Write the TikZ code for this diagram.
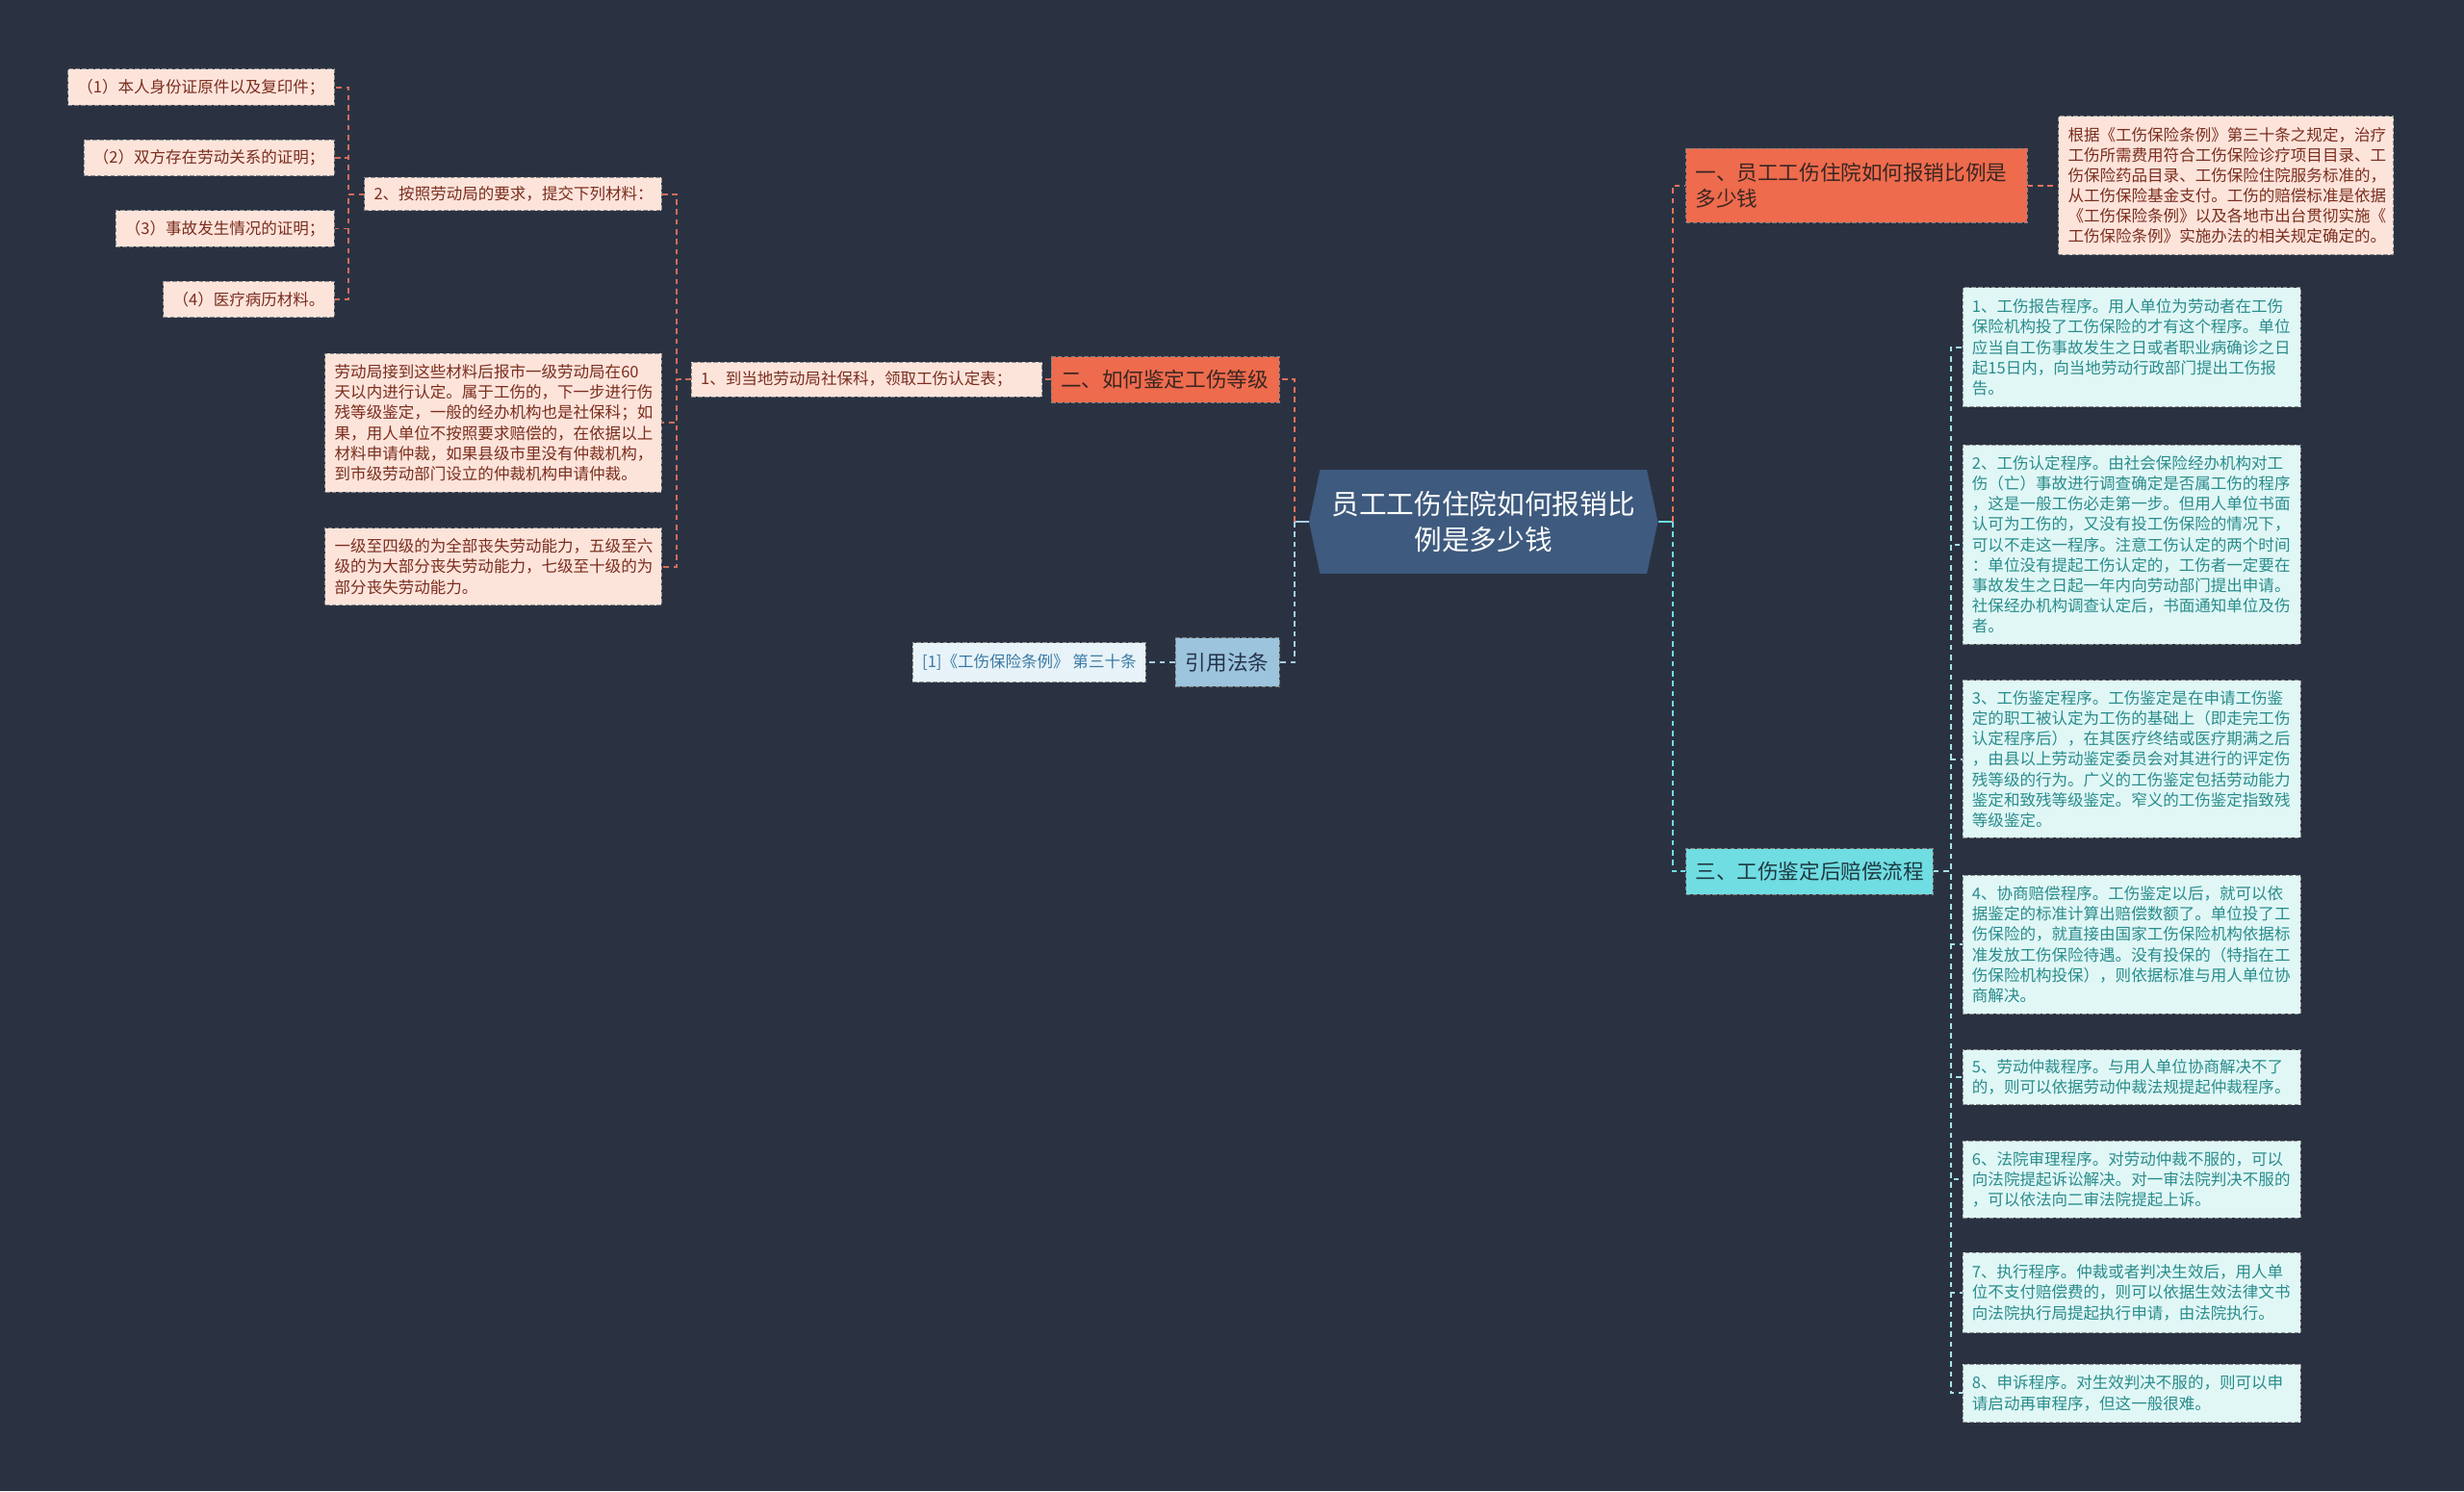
\documentclass[tikz,border=0pt]{standalone}
\usepackage{fontspec}
\setmainfont{Noto Sans CJK SC}
\usepackage{tikz}

\definecolor{bgcol}{HTML}{2A3242}
\definecolor{rootfill}{HTML}{3E5A7E}
\definecolor{orangefill}{HTML}{EE6B4D}
\definecolor{orangetext}{HTML}{3A2622}
\definecolor{pinkfill}{HTML}{FDE4DB}
\definecolor{pinktext}{HTML}{7B2E1E}
\definecolor{cyanfill}{HTML}{70DDE2}
\definecolor{cyantext}{HTML}{1E3A42}
\definecolor{palefill}{HTML}{E0F7F6}
\definecolor{paletext}{HTML}{2A8C8C}
\definecolor{bluefill}{HTML}{9CC4DC}
\definecolor{bluetext}{HTML}{24344A}
\definecolor{iceblue}{HTML}{E7F3F8}
\definecolor{icetext}{HTML}{3A7AA5}
\definecolor{orangeline}{HTML}{E8735A}
\definecolor{pinkline}{HTML}{D46C5A}
\definecolor{cyanline}{HTML}{70DDE2}
\definecolor{paleline}{HTML}{A6E4E6}
\definecolor{blueline}{HTML}{A8CDE3}

\newcommand{\smalltext}{\fontsize{7.2pt}{9.2pt}\selectfont}
\newcommand{\branchtext}{\fontsize{9.4pt}{12pt}\selectfont}
\newcommand{\roottext}{\fontsize{12.5pt}{16.3pt}\selectfont}

\begin{document}
\begin{tikzpicture}[x=0.025cm, y=-0.025cm,
            every node/.style = {shape=rectangle, align=left,
                                 inner xsep=0.15cm, inner ysep=0.08cm},
            boxline/.style = {draw=#1, dash pattern=on 2pt off 1pt, line width=0.4pt},
            pinkleaf/.style = {fill=pinkfill, boxline=black!45, text=pinktext, font=\smalltext},
            paleleaf/.style = {fill=palefill, boxline=black!45, text=paletext, font=\smalltext},
            iceleaf/.style = {fill=iceblue, boxline=black!45, text=icetext, font=\smalltext},
            orangebranch/.style = {fill=orangefill, boxline=black!50, text=orangetext, font=\branchtext},
            cyanbranch/.style = {fill=cyanfill, boxline=black!50, text=cyantext, font=\branchtext},
            bluebranch/.style = {fill=bluefill, boxline=black!50, text=bluetext, font=\branchtext},
            link/.style = {draw=#1, dash pattern=on 2.5pt off 2pt, line width=0.8pt},
            stub/.style = {draw=#1, line width=1pt}]
\fill[bgcol] (0,0) rectangle (1568,949);
\useasboundingbox (0,0) rectangle (1568,949);

\fill[rootfill] (833,332) -- (840,299) -- (1048,299) -- (1055,332)
                -- (1048,365) -- (840,365) -- cycle;
\node[text=white, font=\roottext, align=center,
      minimum width=5.55cm, minimum height=1.65cm] (root) at (944,332)
      {员工工伤住院如何报销比\\例是多少钱};

\node[orangebranch, text width=5.125cm, minimum height=1.175cm] (b1) at (1181.5,118)
      {一、员工工伤住院如何报销比例是\\多少钱};
\node[pinkleaf, text width=5.025cm, minimum height=2.2cm] (b1c) at (1416.5,118)
      {根据《工伤保险条例》第三十条之规定，治疗\\
       工伤所需费用符合工伤保险诊疗项目目录、工\\
       伤保险药品目录、工伤保险住院服务标准的，\\
       从工伤保险基金支付。工伤的赔偿标准是依据\\
       《工伤保险条例》以及各地市出台贯彻实施《\\
       工伤保险条例》实施办法的相关规定确定的。};

\node[cyanbranch, text width=3.625cm, minimum height=0.725cm] (b3) at (1151.5,554.5)
      {三、工伤鉴定后赔偿流程};
\node[paleleaf, text width=5.075cm, minimum height=1.9cm] (c1) at (1356.5,221)
      {1、工伤报告程序。用人单位为劳动者在工伤\\
       保险机构投了工伤保险的才有这个程序。单位\\
       应当自工伤事故发生之日或者职业病确诊之日\\
       起15日内，向当地劳动行政部门提出工伤报\\
       告。};
\node[paleleaf, text width=5.075cm, minimum height=3.175cm] (c2) at (1356.5,346.5)
      {2、工伤认定程序。由社会保险经办机构对工\\
       伤（亡）事故进行调查确定是否属工伤的程序\\
       ，这是一般工伤必走第一步。但用人单位书面\\
       认可为工伤的，又没有投工伤保险的情况下，\\
       可以不走这一程序。注意工伤认定的两个时间\\
       ：单位没有提起工伤认定的，工伤者一定要在\\
       事故发生之日起一年内向劳动部门提出申请。\\
       社保经办机构调查认定后，书面通知单位及伤\\
       者。};
\node[paleleaf, text width=5.075cm, minimum height=2.5cm] (c3) at (1356.5,483)
      {3、工伤鉴定程序。工伤鉴定是在申请工伤鉴\\
       定的职工被认定为工伤的基础上（即走完工伤\\
       认定程序后），在其医疗终结或医疗期满之后\\
       ，由县以上劳动鉴定委员会对其进行的评定伤\\
       残等级的行为。广义的工伤鉴定包括劳动能力\\
       鉴定和致残等级鉴定。窄义的工伤鉴定指致残\\
       等级鉴定。};
\node[paleleaf, text width=5.075cm, minimum height=2.2cm] (c4) at (1356.5,601)
      {4、协商赔偿程序。工伤鉴定以后，就可以依\\
       据鉴定的标准计算出赔偿数额了。单位投了工\\
       伤保险的，就直接由国家工伤保险机构依据标\\
       准发放工伤保险待遇。没有投保的（特指在工\\
       伤保险机构投保），则依据标准与用人单位协\\
       商解决。};
\node[paleleaf, text width=5.075cm, minimum height=0.875cm] (c5) at (1356.5,685.5)
      {5、劳动仲裁程序。与用人单位协商解决不了\\
       的，则可以依据劳动仲裁法规提起仲裁程序。};
\node[paleleaf, text width=5.075cm, minimum height=1.225cm] (c6) at (1356.5,750.5)
      {6、法院审理程序。对劳动仲裁不服的，可以\\
       向法院提起诉讼解决。对一审法院判决不服的\\
       ，可以依法向二审法院提起上诉。};
\node[paleleaf, text width=5.075cm, minimum height=1.275cm] (c7) at (1356.5,822.5)
      {7、执行程序。仲裁或者判决生效后，用人单\\
       位不支付赔偿费的，则可以依据生效法律文书\\
       向法院执行局提起执行申请，由法院执行。};
\node[paleleaf, text width=5.075cm, minimum height=0.925cm] (c8) at (1356.5,886.5)
      {8、申诉程序。对生效判决不服的，则可以申\\
       请启动再审程序，但这一般很难。};

\node[orangebranch, text width=3.325cm, minimum height=0.725cm] (b2) at (741.5,241.5)
      {二、如何鉴定工伤等级};
\node[pinkleaf, text width=5.275cm, minimum height=0.55cm] (b2c) at (551.5,241.5)
      {1、到当地劳动局社保科，领取工伤认定表；};
\node[pinkleaf, text width=4.425cm, minimum height=0.525cm] (g1) at (326.5,123.5)
      {2、按照劳动局的要求，提交下列材料：};
\node[pinkleaf, text width=5.05cm, minimum height=2.2cm] (g2) at (314,269)
      {劳动局接到这些材料后报市一级劳动局在60\\
       天以内进行认定。属于工伤的，下一步进行伤\\
       残等级鉴定，一般的经办机构也是社保科；如\\
       果，用人单位不按照要求赔偿的，在依据以上\\
       材料申请仲裁，如果县级市里没有仲裁机构，\\
       到市级劳动部门设立的仲裁机构申请仲裁。};
\node[pinkleaf, text width=5.05cm, minimum height=1.225cm] (g3) at (314,360.5)
      {一级至四级的为全部丧失劳动能力，五级至六\\
       级的为大部分丧失劳动能力，七级至十级的为\\
       部分丧失劳动能力。};
\node[pinkleaf, anchor=east, minimum height=0.575cm] (m1) at (213,55.5)
      {（1）本人身份证原件以及复印件；};
\node[pinkleaf, anchor=east, minimum height=0.575cm] (m2) at (213,100.5)
      {（2）双方存在劳动关系的证明；};
\node[pinkleaf, anchor=east, minimum height=0.575cm] (m3) at (213,145.5)
      {（3）事故发生情况的证明；};
\node[pinkleaf, anchor=east, minimum height=0.575cm] (m4) at (213,190.5)
      {（4）医疗病历材料。};

\node[bluebranch, minimum width=1.65cm, minimum height=0.775cm] (r1) at (781,421.5)
      {引用法条};
\node[iceleaf, minimum width=3.7cm, minimum height=0.625cm] (r1c) at (655,421.5)
      {[1]《工伤保险条例》 第三十条};

\draw[stub=blueline] (root.west) -- ++(-9,0) coordinate (lhub);
\draw[link=orangeline] (lhub) |- (b2.east);
\draw[link=blueline] (lhub) |- (r1.east);
\draw[stub=cyanline] (root.east) -- ++(9,0) coordinate (rhub);
\draw[link=orangeline] (rhub) |- (b1.west);
\draw[link=cyanline] (rhub) |- (b3.west);
\draw[link=orangeline] (b1.east) -- (b1c.west);
\foreach \c in {c1,c2,c3,c4,c5,c6,c7,c8}
  \draw[link=paleline] (b3.east) -- ++(11,0) |- (\c.west);
\draw[link=pinkline] (b2.west) -- (b2c.east);
\foreach \g in {g1,g2,g3}
  \draw[link=pinkline] (b2c.west) -- ++(-9,0) |- (\g.east);
\foreach \m in {m1,m2,m3,m4}
  \draw[link=pinkline] (g1.west) -- ++(-10,0) |- (\m.east);
\draw[link=blueline] (r1.west) -- (r1c.east);
\end{tikzpicture}
\end{document}
